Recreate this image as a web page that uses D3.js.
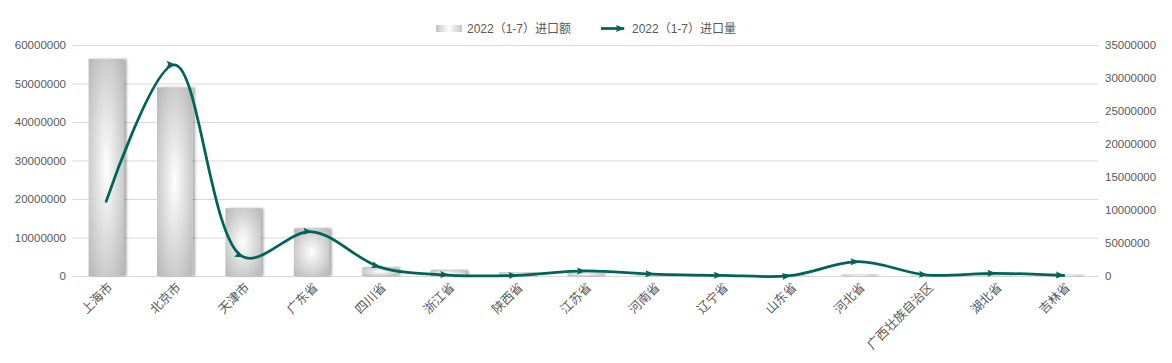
<!DOCTYPE html>
<html>
<head>
<meta charset="utf-8">
<script src="https://cdn.jsdelivr.net/npm/d3@7"></script>
<style>
  body { margin: 0; background: #fff; }
  text { font-family: "Liberation Sans", "Noto Sans CJK SC", sans-serif; fill: #595959; }
</style>
</head>
<body>
<div id="chart"></div>
<script>
// categories and both series
const provinces = ["上海市", "北京市", "天津市", "广东省", "四川省", "浙江省", "陕西省", "江苏省",
                   "河南省", "辽宁省", "山东省", "河北省", "广西壮族自治区", "湖北省", "吉林省"];
const importValue = [56400000, 49000000, 17600000, 12400000, 2260000, 1560000, 960000, 860000,
                     200000, 150000, 100000, 350000, 100000, 100000, 300000];
const importVolume = [11300000, 32000000, 2900000, 6700000, 1350000, 150000, 100000, 760000,
                      300000, 100000, 50000, 2170000, 150000, 400000, 80000];
const leftTicks = [0, 10000000, 20000000, 30000000, 40000000, 50000000, 60000000];
const rightTicks = [0, 5000000, 10000000, 15000000, 20000000, 25000000, 30000000, 35000000];
const seriesNames = ["2022（1-7）进口额", "2022（1-7）进口量"];

const width = 1172, height = 363;
const margin = {top: 45, bottom: 87, left: 72, right: 74};
const lineColor = "#00645a";

const svg = d3.select("#chart").append("svg")
    .attr("width", width)
    .attr("height", height);

const defs = svg.append("defs");

var grad = defs.append("radialGradient")
    .attr("id", "barGrad")
    .attr("cx", "50%").attr("cy", "50%").attr("r", "72%");
grad.append("stop").attr("offset", "0%").attr("stop-color", "#ffffff");
grad.append("stop").attr("offset", "100%").attr("stop-color", "#b4b4b4");

var lgGrad = defs.append("linearGradient").attr("id", "legendGrad");
lgGrad.append("stop").attr("offset", "0%").attr("stop-color", "#c4c4c4");
lgGrad.append("stop").attr("offset", "50%").attr("stop-color", "#ffffff");
lgGrad.append("stop").attr("offset", "100%").attr("stop-color", "#c4c4c4");

var shadow = defs.append("filter").attr("id", "shadow")
    .attr("x", "-20%").attr("y", "-5%").attr("width", "150%").attr("height", "110%");
shadow.append("feDropShadow")
    .attr("dx", 3).attr("dy", 0).attr("stdDeviation", 1.3)
    .attr("flood-color", "#000").attr("flood-opacity", 0.3);

defs.append("marker")
    .attr("id", "arrow")
    .attr("markerUnits", "userSpaceOnUse")
    .attr("viewBox", "-10 -5 12 10")
    .attr("markerWidth", 12).attr("markerHeight", 10)
    .attr("refX", 0).attr("refY", 0)
    .attr("orient", "auto")
    .append("path")
    .attr("d", "M-8,-3.5 L1,0 L-8,3.5 L-6.5,0 Z")
    .attr("fill", lineColor);

const x = d3.scaleBand().domain(provinces)
    .range([margin.left, width - margin.right])
    .paddingInner(0.485).paddingOuter(0.2425);
const xc = d => x(d) + x.bandwidth() / 2;
const yLeft = d3.scaleLinear().domain([0, 60000000]).range([height - margin.bottom, margin.top]);
const yRight = d3.scaleLinear().domain([0, 35000000]).range([height - margin.bottom, margin.top]);

// gridlines
svg.append("g").selectAll("line")
    .data(leftTicks)
    .join("line")
    .attr("x1", margin.left).attr("x2", width - margin.right)
    .attr("y1", d => yLeft(d) + 0.5).attr("y2", d => yLeft(d) + 0.5)
    .attr("stroke", "#d9d9d9").attr("stroke-width", 1);

// left axis
var gl = svg.append("g")
    .attr("transform", "translate(" + (margin.left - 6) + ",0)")
    .call(d3.axisLeft(yLeft).tickValues(leftTicks).tickSize(0).tickPadding(0).tickFormat(d3.format("d")));
gl.select(".domain").remove();
gl.selectAll("text").attr("font-size", "11.5px").attr("fill", "#595959").attr("font-family", null);

// right axis
var gr = svg.append("g")
    .attr("transform", "translate(" + (width - margin.right + 7) + ",0)")
    .call(d3.axisRight(yRight).tickValues(rightTicks).tickSize(0).tickPadding(0).tickFormat(d3.format("d")));
gr.select(".domain").remove();
gr.selectAll("text").attr("font-size", "11.5px").attr("fill", "#595959").attr("font-family", null);

// bars
svg.append("g").selectAll("rect")
    .data(provinces)
    .join("rect")
    .attr("x", d => x(d))
    .attr("width", x.bandwidth())
    .attr("y", (d, i) => yLeft(importValue[i]))
    .attr("height", (d, i) => yLeft(0) - yLeft(importValue[i]))
    .attr("fill", "url(#barGrad)")
    .attr("filter", "url(#shadow)");

// x labels
svg.append("g").selectAll("text")
    .data(provinces)
    .join("text")
    .attr("transform", d => "translate(" + (xc(d) + 4) + "," + (height - margin.bottom + 9) + ") rotate(-45)")
    .attr("text-anchor", "end")
    .attr("dy", "0.35em")
    .attr("font-size", "12.5px")
    .text(d => d);

// smoothed line with arrowheads at each point
var line = d3.line()
    .x((d, i) => xc(provinces[i]))
    .y(d => yRight(d))
    .curve(d3.curveCatmullRom.alpha(0.5));

svg.append("path")
    .datum(importVolume)
    .attr("d", line)
    .attr("fill", "none")
    .attr("stroke", lineColor)
    .attr("stroke-width", 2.75)
    .attr("stroke-linecap", "round")
    .attr("marker-mid", "url(#arrow)")
    .attr("marker-end", "url(#arrow)");

// legend
var legend = svg.append("g").attr("font-size", "12px");
legend.append("rect")
    .attr("x", 436).attr("y", 25).attr("width", 26).attr("height", 7)
    .attr("fill", "url(#legendGrad)");
legend.append("text")
    .attr("x", 467).attr("y", 33)
    .text(seriesNames[0]);
legend.append("line")
    .attr("x1", 601).attr("x2", 624).attr("y1", 28.5).attr("y2", 28.5)
    .attr("stroke", lineColor).attr("stroke-width", 2.75)
    .attr("marker-end", "url(#arrow)");
legend.append("text")
    .attr("x", 632).attr("y", 33)
    .text(seriesNames[1]);
</script>
</body>
</html>
